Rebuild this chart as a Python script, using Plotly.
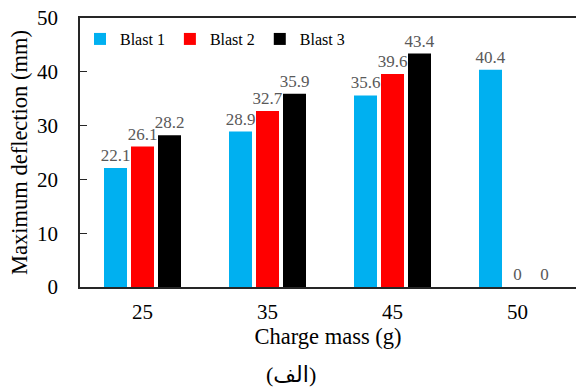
import plotly.graph_objects as go

# Peak deflection per charge mass for three successive blasts
charge_mass = ["25", "35", "45", "50"]
blast_1 = [22.1, 28.9, 35.6, 40.4]
blast_2 = [26.1, 32.7, 39.6, 0]
blast_3 = [28.2, 35.9, 43.4, 0]
series_names = ["Blast 1", "Blast 2", "Blast 3"]
series_colors = ["#00B0F0", "#FF0000", "#000000"]
y_ticks = [0, 10, 20, 30, 40, 50]

SERIF = "Liberation Serif"

fig = go.Figure()
for name, vals, color in zip(series_names, [blast_1, blast_2, blast_3], series_colors):
    fig.add_trace(go.Bar(
        x=charge_mass,
        y=vals,
        name=name,
        marker=dict(color=color, line=dict(width=0)),
        text=[f"{v:g}" for v in vals],
        textposition="outside",
        constraintext="none",
        textfont=dict(family=SERIF, size=17, color="#595959"),
        cliponaxis=False,
    ))

fig.update_layout(
    width=576,
    height=390,
    margin=dict(l=80, r=0, t=18, b=103),
    paper_bgcolor="white",
    plot_bgcolor="white",
    barmode="group",
    bargap=0.352,
    bargroupgap=0.148,
    font=dict(family=SERIF, size=21, color="black"),
    showlegend=True,
    legend=dict(
        orientation="h",
        x=0.0, y=0.985,
        xanchor="left", yanchor="top",
        bgcolor="rgba(0,0,0,0)",
        font=dict(family=SERIF, size=16, color="black"),
        itemwidth=30,
    ),
)

fig.update_xaxes(
    type="category",
    range=[-0.5, 3.468],
    showline=True, linecolor="#262626", linewidth=1.5,
    mirror=True,
    ticks="",
    showgrid=False,
    tickfont=dict(family=SERIF, size=21, color="black"),
    ticklabelstandoff=5,
    title=dict(text="Charge mass (g)", font=dict(family=SERIF, size=22.5, color="black"), standoff=3),
)

fig.update_yaxes(
    range=[0, 50],
    tickvals=y_ticks,
    showline=True, linecolor="#262626", linewidth=1.5,
    ticks="inside", ticklen=7, tickwidth=1.2, tickcolor="#262626",
    showgrid=False, zeroline=False,
    tickfont=dict(family=SERIF, size=21, color="black"),
    ticklabelstandoff=16,
    title=dict(text="Maximum deflection (mm)", font=dict(family=SERIF, size=22.5, color="black"), standoff=3),
)

# Panel caption under the axis title
fig.add_annotation(
    text="(الف)",
    xref="paper", yref="paper",
    x=(291 - 80) / 496, y=-(374 - 287) / 269,
    xanchor="center", yanchor="middle",
    showarrow=False,
    font=dict(family="Liberation Serif, DejaVu Sans", size=22, color="black"),
)

fig.write_html("out.html")
